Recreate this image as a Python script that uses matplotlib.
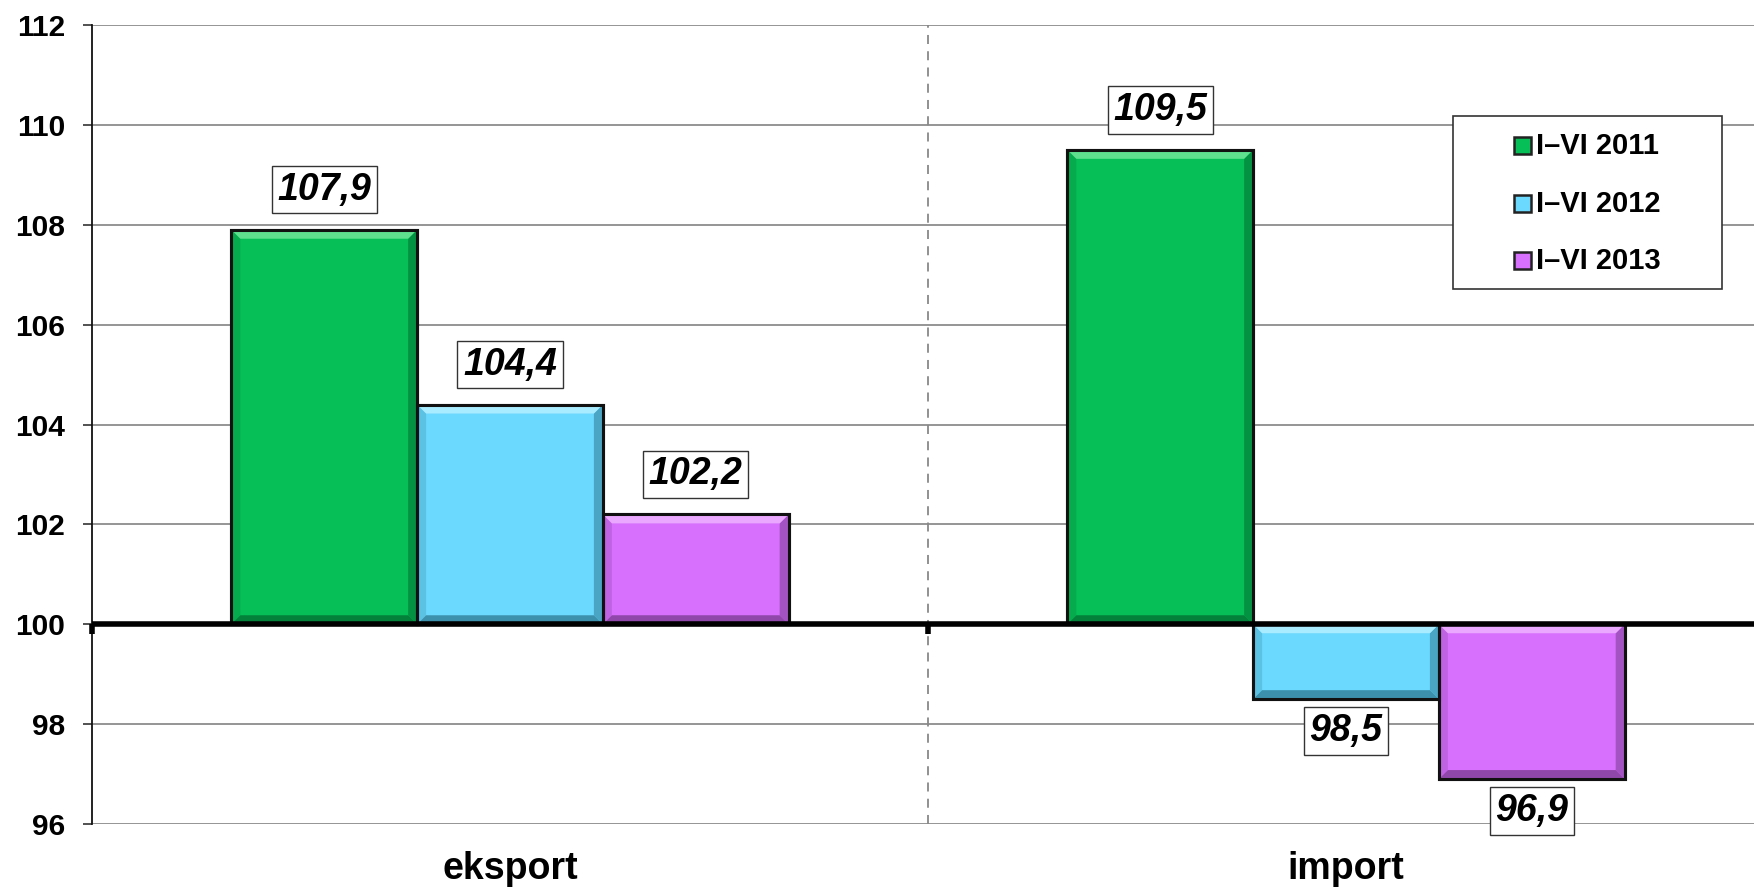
import matplotlib
matplotlib.use("Agg")
import matplotlib.pyplot as plt
from matplotlib.patches import Polygon, Rectangle
import matplotlib.transforms as mtrans

plt.rcParams['font.family'] = ['Liberation Sans', 'DejaVu Sans']

categories = ["eksport", "import"]
series_names = ["I\u2013VI 2011", "I\u2013VI 2012", "I\u2013VI 2013"]
values_2011 = [107.9, 109.5]
values_2012 = [104.4, 98.5]
values_2013 = [102.2, 96.9]
labels_2011 = ["107,9", "109,5"]
labels_2012 = ["104,4", "98,5"]
labels_2013 = ["102,2", "96,9"]
yticks = [96, 98, 100, 102, 104, 106, 108, 110, 112]

series = [values_2011, values_2012, values_2013]
labels = [labels_2011, labels_2012, labels_2013]
colors = ['#06BF56', '#6BD8FD', '#D670FD']
dark = ['#03803A', '#3C90AC', '#8F47A9']
light = ['#5FE08F', '#A9EBFF', '#EBA8FF']

W, H = 1754, 888
fig = plt.figure(figsize=(W / 100, H / 100), dpi=100)
left, right, top, bottom = 92, 1754, 25, 824
ax = fig.add_axes([left / W, 1 - bottom / H, (right - left) / W, (bottom - top) / H])

base = 100
ax.set_ylim(96, 112)
ax.set_xlim(-0.5, 1.488)
bw = 1 / 4.5

px_x = 836.0  # pixels per category unit
px_y = 50.0   # pixels per y unit
bev = 9

for s, (vals, labs) in enumerate(zip(series, labels)):
    for i, (v, lab) in enumerate(zip(vals, labs)):
        xc = i + (s - 1) * bw
        x0, x1 = xc - bw / 2, xc + bw / 2
        ytop, ybot = max(v, base), min(v, base)
        ax.bar(xc, v - base, bottom=base, width=bw, color=colors[s],
               edgecolor='#111111', linewidth=2.2, zorder=3)
        bx = bev / px_x
        by = bev / px_y
        ax.add_patch(Polygon([(x0, ytop), (x1, ytop), (x1 - bx, ytop - by), (x0 + bx, ytop - by)],
                             closed=True, facecolor=light[s], edgecolor='none', zorder=3.5))
        ax.add_patch(Polygon([(x0, ybot), (x1, ybot), (x1 - bx, ybot + by), (x0 + bx, ybot + by)],
                             closed=True, facecolor=dark[s], edgecolor='none', zorder=3.5))
        ax.add_patch(Polygon([(x1, ytop), (x1, ybot), (x1 - bx, ybot + by), (x1 - bx, ytop - by)],
                             closed=True, facecolor=dark[s], edgecolor='none', alpha=0.7, zorder=3.4))
        ax.add_patch(Polygon([(x0, ytop), (x0, ybot), (x0 + bx, ybot + by), (x0 + bx, ytop - by)],
                             closed=True, facecolor=dark[s], edgecolor='none', alpha=0.3, zorder=3.4))
        ax.bar(xc, v - base, bottom=base, width=bw, color='none',
               edgecolor='#111111', linewidth=2.2, zorder=3.6)
        if v >= base:
            ypos = v + 40 / px_y
        else:
            ypos = v - 32 / px_y
        ax.text(xc, ypos, lab, ha='center', va='center', fontsize=27,
                fontweight='bold', fontstyle='italic', zorder=5,
                bbox=dict(boxstyle='square,pad=0.15', facecolor='white',
                          edgecolor='#333333', linewidth=1.0))

ax.set_yticks(yticks)
ax.yaxis.grid(True, color='#8c8c8c', linewidth=1.3, zorder=0)
ax.set_axisbelow(True)
ax.set_yticklabels([str(t) for t in yticks], fontsize=21.5, fontweight='bold')
ax.tick_params(axis='y', direction='out', length=6.5, width=1.2, color='#333333', pad=13)
ax.set_xticks([])

for sp in ['top', 'right', 'bottom']:
    ax.spines[sp].set_visible(False)
ax.spines['left'].set_linewidth(1.3)
ax.spines['left'].set_color('#111111')

ax.axhline(base, color='black', linewidth=4, zorder=4)
ax.axvline(0.5, color='#888888', linewidth=1.3, linestyle=(0, (5, 4)), zorder=1)
for xt in [-0.5, 0.5]:
    ax.plot([xt, xt], [base, base - 10 / px_y], color='black', linewidth=4,
            solid_capstyle='butt', zorder=4, clip_on=False)

trans = mtrans.blended_transform_factory(ax.transData, fig.transFigure)
for i, c in enumerate(categories):
    ax.text(i, 1 - 869 / H, c, transform=trans, ha='center', va='center',
            fontsize=27, fontweight='bold')

# manual legend (pixel layout)
def fx(p):
    return p / W

def fy(p):
    return 1 - p / H

fig.add_artist(Rectangle((fx(1453), fy(289)), fx(1722) - fx(1453), fy(116) - fy(289),
                         transform=fig.transFigure, facecolor='white',
                         edgecolor='#333333', linewidth=1.2, zorder=6))
for s, name in enumerate(series_names):
    yc = 146 + s * 57.5
    fig.add_artist(Rectangle((fx(1514), fy(yc + 8.5)), fx(17), 17 / H,
                             transform=fig.transFigure, facecolor=colors[s],
                             edgecolor='#222222', linewidth=1.8, zorder=7))
    fig.text(fx(1536), fy(yc), name, ha='left', va='center', fontsize=21,
             fontweight='bold', zorder=7)

fig.savefig('out.png', dpi=100)
